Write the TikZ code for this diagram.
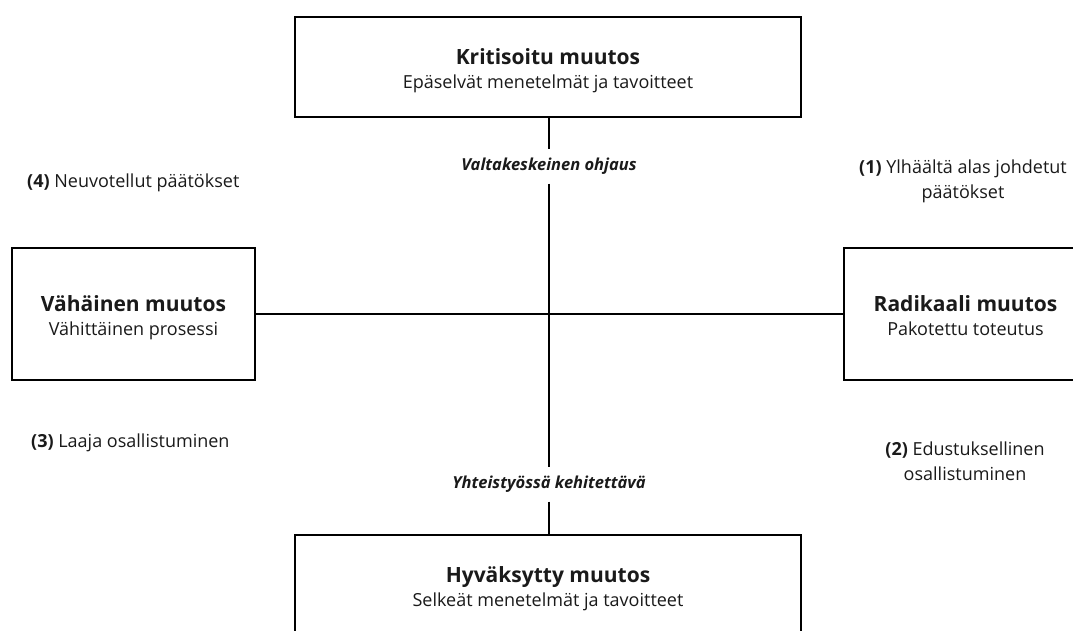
\documentclass[tikz,border=0pt]{standalone}
\usepackage{fontspec}
\setmainfont{Open Sans}
\definecolor{ink}{HTML}{1A1A1A}
\begin{document}
\begin{tikzpicture}[x=1pt,y=-1pt,
  box/.style={draw=black,line width=2.8pt,fill=white,inner sep=0pt},
  boxtitle/.style={anchor=base,inner sep=0pt,text=ink,font=\fontsize{21}{25}\selectfont\bfseries},
  boxsub/.style={anchor=base,inner sep=0pt,text=ink,font=\fontsize{18}{25}\selectfont},
  conn/.style={draw=black,line width=2.8pt},
  axislab/.style={font=\fontsize{16.5}{19}\selectfont\bfseries\itshape,text=ink,inner sep=0pt,minimum height=34pt},
  sidelab/.style={font=\fontsize{18}{25}\selectfont,text=ink,align=center,inner sep=0pt}]
\clip (0,0) rectangle (1073,630);
\fill[white] (0,0) rectangle (1073,630);
% boxes
\node[box,minimum width=506pt,minimum height=100pt] (top) at (548,67) {};
\node[box,minimum width=506pt,minimum height=100pt] (bot) at (548,585) {};
\node[box,minimum width=243pt,minimum height=132pt] (left) at (133.5,314) {};
\node[box,minimum width=243pt,minimum height=132pt] (right) at (965.5,314) {};
% box texts
\node[boxtitle] (topT) at ([yshift=2.5pt]top.center) {Kritisoitu muutos};
\node[boxsub] (topS) at ([yshift=-21pt]top.center) {Epäselvät menetelmät ja tavoitteet};
\node[boxtitle] (botT) at ([yshift=2.5pt]bot.center) {Hyväksytty muutos};
\node[boxsub] (botS) at ([yshift=-21pt]bot.center) {Selkeät menetelmät ja tavoitteet};
\node[boxtitle] (leftT) at ([yshift=2.5pt]left.center) {Vähäinen muutos};
\node[boxsub] (leftS) at ([yshift=-21pt]left.center) {Vähittäinen prosessi};
\node[boxtitle] (rightT) at ([yshift=2.5pt]right.center) {Radikaali muutos};
\node[boxsub] (rightS) at ([yshift=-21pt]right.center) {Pakotettu toteutus};
% axis labels
\node[axislab] (vo) at (549,166.5) {Valtakeskeinen ohjaus};
\node[axislab] (yk) at (549,484.5) {Yhteistyössä kehitettävä};
% connectors
\draw[conn] (top.south -| vo) -- (vo.north);
\draw[conn] (vo.south) -- (yk.north);
\draw[conn] (yk.south) -- (bot.north -| yk);
\draw[conn] (left.east) -- (right.west);
% quadrant labels
\node[sidelab,anchor=west] (l4) at (27,183) {\textbf{(4)} Neuvotellut päätökset};
\node[sidelab,anchor=west] (l3) at (31,443) {\textbf{(3)} Laaja osallistuminen};
\node[sidelab] (l1) at (963,181) {\textbf{(1)} Ylhäältä alas johdetut\\päätökset};
\node[sidelab] (l2) at (965,461) {\textbf{(2)} Edustuksellinen\\osallistuminen};
\end{tikzpicture}
\end{document}
